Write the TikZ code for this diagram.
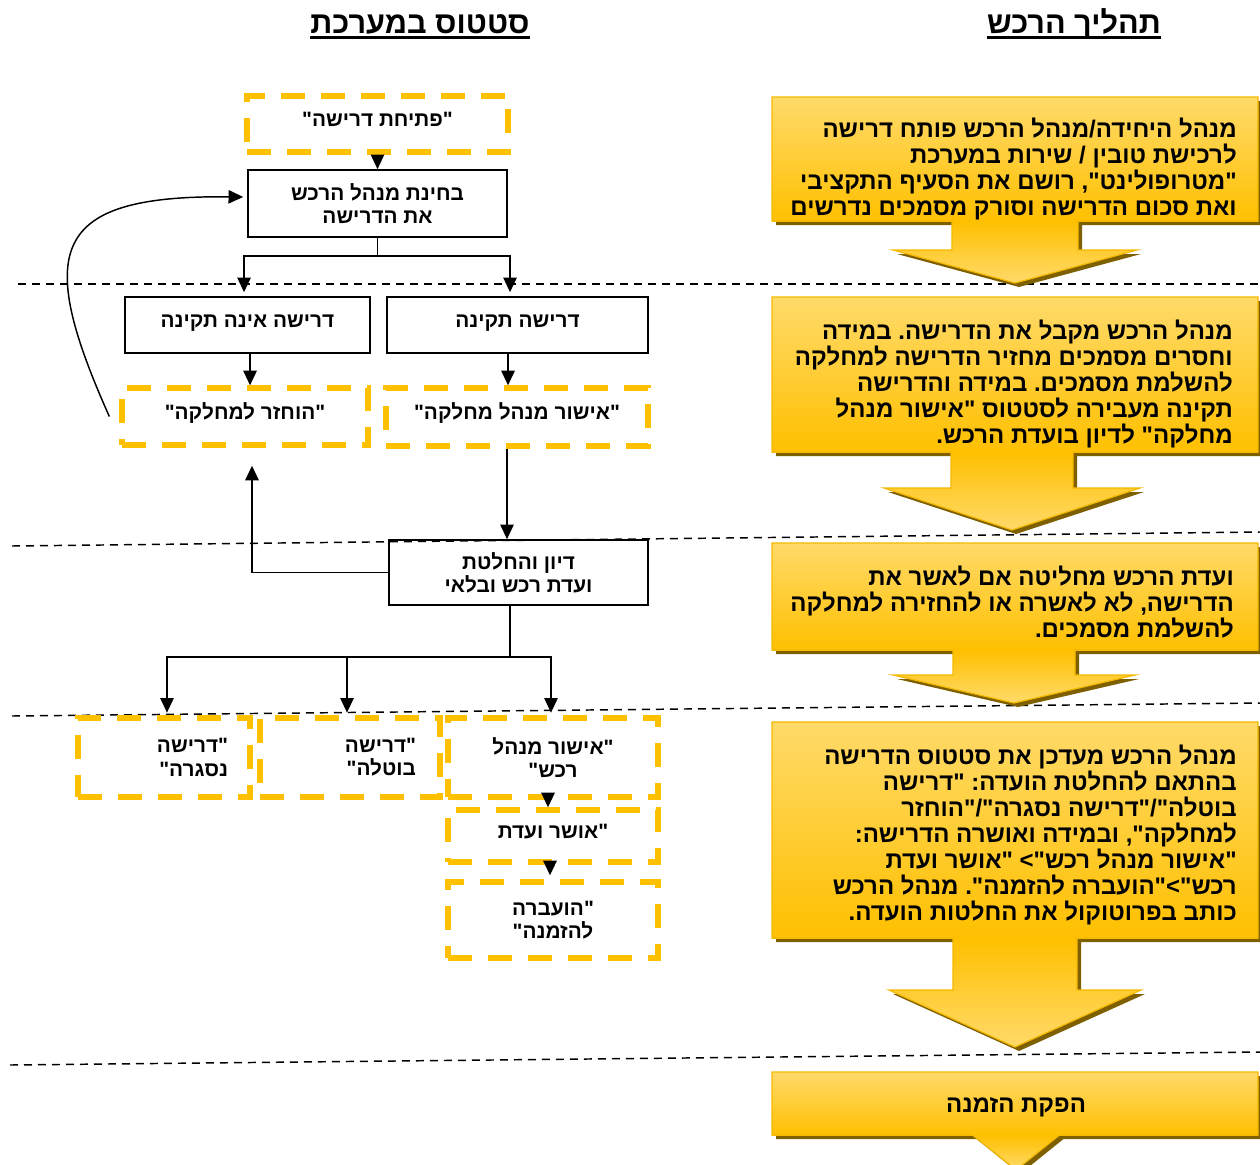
\documentclass[tikz,border=0pt]{standalone}
\usepackage{fontspec}
\newfontfamily\heb[Script=Hebrew]{Liberation Sans}
\TeXXeTstate=1
\frenchspacing
\usetikzlibrary{arrows.meta}
\definecolor{gold}{HTML}{FFC000}
\definecolor{ylight}{HTML}{FFDA6A}
\definecolor{shadowc}{HTML}{7F6000}
\definecolor{goldb}{HTML}{F5B800}
\newcommand\RL[1]{\beginR#1\endR}
\newcommand\lf{\heb\bfseries\fontsize{15.6}{17.4}\selectfont}
\newcommand\rf{\heb\bfseries\fontsize{18}{19.5}\selectfont}
\newcommand\hf{\heb\bfseries\fontsize{23}{26}\selectfont}
% y1 y2 cx stem-half stem-bottom wing-half tip
\newcommand\yarrow[7]{%
  \fill[shadowc,shift={(4,4)}] (772,#1) -- (1258,#1) -- (1258,#2) -- (#3+#4,#2) -- (#3+#4,#5) -- (#3+#6,#5) -- (#3,#7) -- (#3-#6,#5) -- (#3-#4,#5) -- (#3-#4,#2) -- (772,#2) -- cycle;
  \shade[top color=ylight,bottom color=gold] (772,#1) rectangle (1258,#2);
  \shade[top color=gold,bottom color=ylight] (#3-#4,#2) -- (#3-#4,#5) -- (#3-#6,#5) -- (#3,#7) -- (#3+#6,#5) -- (#3+#4,#5) -- (#3+#4,#2) -- cycle;
  \draw[goldb,line width=0.9pt,line join=miter] (772,#1) -- (1258,#1) -- (1258,#2) -- (#3+#4,#2) -- (#3+#4,#5) -- (#3+#6,#5) -- (#3,#7) -- (#3-#6,#5) -- (#3-#4,#5) -- (#3-#4,#2) -- (772,#2) -- cycle;
}
\begin{document}
\begin{tikzpicture}[x=0.75pt,y=-0.75pt,
  lbox/.style={draw,line width=1.2pt,font=\lf,align=center,inner sep=2pt},
  ybox/.style={draw=gold,line width=4pt,dash pattern=on 18pt off 12pt,font=\lf,align=center,inner sep=2pt},
  up/.style={text height=11pt,text depth=6.8pt},
  con/.style={line width=1.4pt},
  arr/.style={line width=1.4pt,-{Triangle[length=11pt,width=10pt]}},
  curv/.style={line width=1.1pt,-{Triangle[length=11pt,width=10pt]}},
  sepline/.style={line width=1.1pt,dash pattern=on 6pt off 4.5pt},
  rt/.style={font=\rf,align=right,inner sep=0pt},
  hd/.style={font=\hf,inner sep=0pt}]
\useasboundingbox (0,0) rectangle (1260,1164);

% separators
\draw[sepline] (18,284) -- (1260,284);
\draw[sepline] (12,546) -- (1260,532);
\draw[sepline] (12,716) -- (1260,703);
\draw[sepline] (10,1065) -- (1260,1052);

% headers
\node[hd] (hs) at (420,24) {\RL{סטטוס במערכת}};
\node[hd] (hp) at (1074,24) {\RL{תהליך הרכש}};
\draw[line width=2.2pt] ([yshift=-3pt]hs.base west) -- ([yshift=-3pt]hs.base east);
\draw[line width=2.2pt] ([yshift=-3pt]hp.base west) -- ([yshift=-3pt]hp.base east);

% right process arrows
\yarrow{97}{221}{1015}{63}{250}{122}{283}
\yarrow{297}{452}{1012}{61}{488}{128}{530}
\yarrow{543}{650}{1014}{61}{675}{121}{703}
\yarrow{722}{938}{1015}{62}{990}{126}{1047}
\yarrow{1072}{1135}{1016}{43.5}{1135}{43.5}{1170}

\node[rt,anchor=east] (c1) at (1237,169) {\RL{מנהל היחידה/מנהל הרכש פותח דרישה}\\\RL{לרכישת טובין / שירות במערכת}\\\RL{"מטרופולינט", רושם את הסעיף התקציבי}\\\RL{ואת סכום הדרישה וסורק מסמכים נדרשים}};
\node[rt,anchor=east] (c2) at (1233,383.5) {\RL{מנהל הרכש מקבל את הדרישה. במידה}\\\RL{וחסרים מסמכים מחזיר הדרישה למחלקה}\\\RL{להשלמת מסמכים. במידה והדרישה}\\\RL{תקינה מעבירה לסטטוס "אישור מנהל}\\\RL{מחלקה" לדיון בועדת הרכש.}};
\node[rt,anchor=east] (c3) at (1234,602.5) {\RL{ועדת הרכש מחליטה אם לאשר את}\\\RL{הדרישה, לא לאשרה או להחזירה למחלקה}\\\RL{להשלמת מסמכים.}};
\node[rt,anchor=east] (c4) at (1237,834.5) {\RL{מנהל הרכש מעדכן את סטטוס הדרישה}\\\RL{בהתאם להחלטת הועדה: "דרישה}\\\RL{בוטלה"/"דרישה נסגרה"/"הוחזר}\\\RL{למחלקה", ובמידה ואושרה הדרישה:}\\\RL{"אישור מנהל רכש"> "אושר ועדת}\\\RL{רכש">"הועברה להזמנה". מנהל הרכש}\\\RL{כותב בפרוטוקול את החלטות הועדה.}};
\node[rt] (c5) at (1016,1107) {\RL{הפקת הזמנה}};

% left status chart
\node[ybox,up,minimum width=195.75pt,minimum height=42pt] (pt) at (377.5,124) {\RL{"פתיחת דרישה"}};
\node[lbox,minimum width=194.25pt,minimum height=50.25pt] (bh) at (377.5,203.5) {\RL{בחינת מנהל הרכש}\\\RL{את הדרישה}};
\node[lbox,up,minimum width=183.75pt,minimum height=42pt] (bad) at (247.5,325) {\RL{דרישה אינה תקינה}};
\node[lbox,up,minimum width=195.75pt,minimum height=42pt] (ok) at (517.5,325) {\RL{דרישה תקינה}};
\node[ybox,up,minimum width=184.5pt,minimum height=42.75pt] (hz) at (245,416.5) {\RL{"הוחזר למחלקה"}};
\node[ybox,up,minimum width=196.5pt,minimum height=43.5pt] (am) at (517,417) {\RL{"אישור מנהל מחלקה"}};
\node[lbox,minimum width=194.25pt,minimum height=48.75pt] (dv) at (518.5,572.5) {\RL{דיון והחלטת}\\\RL{ועדת רכש ובלאי}};
\node[ybox,minimum width=129pt,minimum height=59.25pt,text width=96pt,inner xsep=16.5pt,align=right] (ns) at (164,757.5) {\RL{"דרישה}\\\RL{נסגרה"}};
\node[ybox,minimum width=135pt,minimum height=59.25pt,text width=99pt,inner xsep=18pt,align=right] (bt) at (350,757.5) {\RL{"דרישה}\\\RL{בוטלה"}};
\node[ybox,minimum width=157.5pt,minimum height=59.25pt] (ar) at (553,757.5) {\RL{"אישור מנהל}\\\RL{רכש"}};
\node[ybox,up,minimum width=157.5pt,minimum height=39pt] (av) at (553,836) {\RL{"אושר ועדת}};
\node[ybox,minimum width=157.5pt,minimum height=57pt] (hzm) at (553,920) {\RL{"הועברה}\\\RL{להזמנה"}};

% connectors
\draw[arr] (pt.south) -- (bh.north);
\draw[con] (bh.south) -- ++(0,18) coordinate (j1);
\draw[arr,shorten >=3pt] (j1) -| ([xshift=-2.6pt]bad.north);
\draw[arr,shorten >=3pt] (j1) -| ([xshift=-5.6pt]ok.north);
\draw[arr] ([xshift=1.9pt]bad.south) -- ([xshift=1.9pt]bad.south |- hz.north);
\draw[arr] ([xshift=-7.1pt]ok.south) -- ([xshift=-7.1pt]ok.south |- am.north);
\draw[arr] ([xshift=-7.5pt]am.south) -- ([xshift=-7.5pt]am.south |- dv.north);
\draw[arr,shorten >=13.5pt] (dv.west) -| ([xshift=5.25pt]hz.south);
\draw[con] ([xshift=-6.4pt]dv.south) -- ++(0,51) coordinate (j2);
\draw[arr,shorten >=2pt] (j2) -| ([xshift=2.25pt]ns.north);
\draw[arr,shorten >=2pt] (j2) -| ([xshift=-2.25pt]bt.north);
\draw[arr,shorten >=2pt] (j2) -| ([xshift=-1.5pt]ar.north);
\draw[arr] ([xshift=-3.75pt]ar.south) -- ([xshift=-3.75pt]ar.south |- av.north);
\draw[arr,shorten >=3pt] ([xshift=-2.25pt]av.south) -- ([xshift=-2.25pt]av.south |- hzm.north);
\draw[curv] ([xshift=-7.5pt]hz.west) .. controls (35,250) and (50,195) .. ([xshift=-3pt,yshift=4.9pt]bh.west);
\end{tikzpicture}
\end{document}
